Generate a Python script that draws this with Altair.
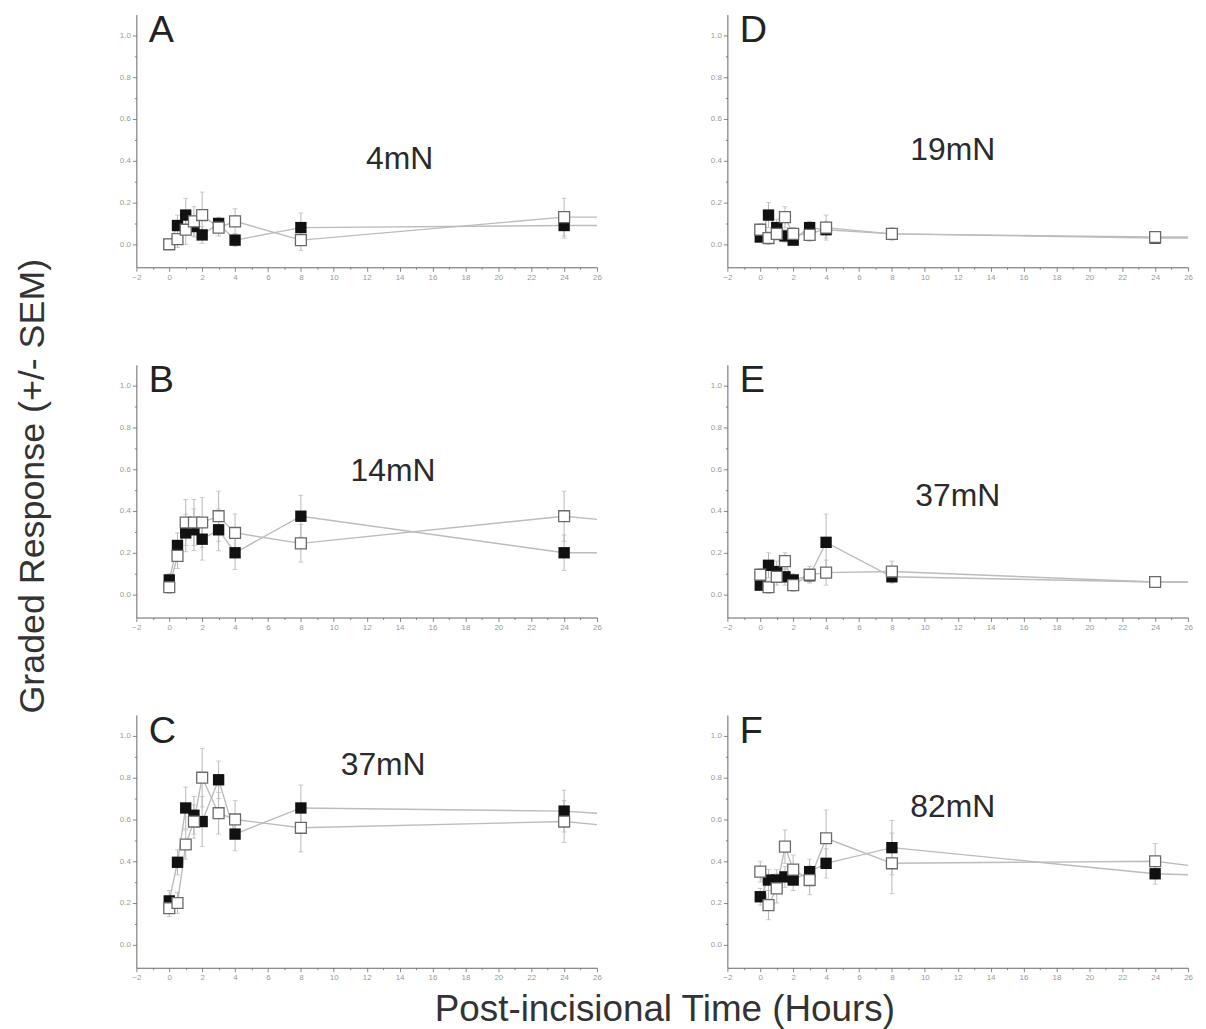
import altair as alt
import pandas as pd

# ---------------- data ----------------
times = [0, 0.5, 1, 1.5, 2, 3, 4, 8, 24]
tail_time = 26

panel_letters = ["A", "B", "C", "D", "E", "F"]
panel_labels = ["4mN", "14mN", "37mN", "19mN", "37mN", "82mN"]
label_x = [14.0, 13.6, 13.0, 11.7, 12.0, 11.7]
label_y = [0.41, 0.59, 0.86, 0.45, 0.47, 0.66]

A_filled = [0.0, 0.09, 0.14, 0.085, 0.045, 0.10, 0.02, 0.08, 0.09]
A_filled_sem = [0.02, 0.05, 0.08, 0.05, 0.04, 0.03, 0.03, 0.07, 0.06]
A_open = [0.0, 0.025, 0.07, 0.11, 0.14, 0.08, 0.11, 0.02, 0.13]
A_open_sem = [0.02, 0.04, 0.07, 0.07, 0.11, 0.04, 0.06, 0.05, 0.09]
A_tail = [0.09, 0.13]

B_filled = [0.07, 0.235, 0.295, 0.31, 0.265, 0.31, 0.20, 0.375, 0.20]
B_filled_sem = [0.03, 0.06, 0.09, 0.10, 0.10, 0.10, 0.08, 0.10, 0.085]
B_open = [0.035, 0.185, 0.345, 0.345, 0.345, 0.375, 0.295, 0.245, 0.375]
B_open_sem = [0.03, 0.06, 0.11, 0.11, 0.12, 0.12, 0.09, 0.09, 0.12]
B_tail = [0.20, 0.36]

C_filled = [0.21, 0.395, 0.655, 0.62, 0.59, 0.79, 0.53, 0.655, 0.64]
C_filled_sem = [0.05, 0.06, 0.10, 0.09, 0.12, 0.09, 0.08, 0.11, 0.10]
C_open = [0.175, 0.20, 0.48, 0.59, 0.80, 0.63, 0.60, 0.56, 0.59]
C_open_sem = [0.04, 0.05, 0.07, 0.08, 0.14, 0.10, 0.09, 0.115, 0.10]
C_tail = [0.63, 0.575]

D_filled = [0.035, 0.14, 0.08, 0.04, 0.02, 0.08, 0.07, 0.05, 0.03]
D_filled_sem = [0.02, 0.06, 0.04, 0.03, 0.02, 0.03, 0.04, 0.03, 0.02]
D_open = [0.07, 0.03, 0.05, 0.13, 0.05, 0.045, 0.08, 0.05, 0.035]
D_open_sem = [0.03, 0.03, 0.03, 0.05, 0.03, 0.03, 0.06, 0.02, 0.02]
D_tail = [0.03, 0.035]

E_filled = [0.045, 0.14, 0.11, 0.085, 0.07, 0.09, 0.25, 0.085, 0.06]
E_filled_sem = [0.02, 0.06, 0.05, 0.04, 0.03, 0.03, 0.135, 0.03, 0.02]
E_open = [0.095, 0.035, 0.085, 0.16, 0.045, 0.095, 0.105, 0.11, 0.06]
E_open_sem = [0.03, 0.03, 0.04, 0.04, 0.03, 0.04, 0.06, 0.05, 0.02]
E_tail = [0.06, 0.06]

F_filled = [0.23, 0.31, 0.31, 0.325, 0.31, 0.35, 0.39, 0.465, 0.34]
F_filled_sem = [0.04, 0.05, 0.05, 0.05, 0.05, 0.06, 0.07, 0.13, 0.05]
F_open = [0.35, 0.19, 0.27, 0.47, 0.36, 0.31, 0.51, 0.39, 0.40]
F_open_sem = [0.05, 0.07, 0.07, 0.08, 0.07, 0.07, 0.135, 0.145, 0.085]
F_tail = [0.335, 0.38]

series = {
    "A": (A_filled, A_filled_sem, A_open, A_open_sem, A_tail),
    "B": (B_filled, B_filled_sem, B_open, B_open_sem, B_tail),
    "C": (C_filled, C_filled_sem, C_open, C_open_sem, C_tail),
    "D": (D_filled, D_filled_sem, D_open, D_open_sem, D_tail),
    "E": (E_filled, E_filled_sem, E_open, E_open_sem, E_tail),
    "F": (F_filled, F_filled_sem, F_open, F_open_sem, F_tail),
}

x_ticks = list(range(-2, 27))
y_ticks = [round(i * 0.1, 1) for i in range(0, 11)]

FONT = "Liberation Sans"
PW, PH = 463, 254

xaxis = alt.Axis(
    values=x_ticks,
    labelExpr="datum.value % 2 == 0 ? datum.label : ''",
    format="d",
    grid=False,
    domainColor="#666",
    tickColor="#888",
    tickSize={"condition": {"test": "datum.value % 2 != 0", "value": 2}, "value": 4},
    labelColor="#999999",
    labelFontSize=8,
    labelFont=FONT,
    labelPadding=2,
    labelOverlap=False,
    labelFlush=False,
    title=None,
)
yaxis = alt.Axis(
    values=y_ticks,
    labelExpr="round(datum.value * 10) % 2 == 0 ? format(datum.value, '.1f') : ''",
    grid=False,
    domainColor="#666",
    tickColor="#888",
    tickSize={"condition": {"test": "round(datum.value * 10) % 2 != 0", "value": 2}, "value": 4},
    labelColor="#999999",
    labelFontSize=8,
    labelFont=FONT,
    labelPadding=2,
    labelOverlap=False,
    labelFlush=False,
    title=None,
)
xscale = alt.Scale(domain=[-2, 26], nice=False, zero=False)
yscale = alt.Scale(domain=[-0.11, 1.1], nice=False, zero=False)


def X(f):
    return alt.X(f"{f}:Q", scale=xscale, axis=xaxis, title=None)


def Y(f):
    return alt.Y(f"{f}:Q", scale=yscale, axis=yaxis, title=None)


def make_panel(i):
    letter = panel_letters[i]
    f, fs, o, os_, tail = series[letter]
    rows = []
    for t, v, s in zip(times, f, fs):
        rows.append({"t": t, "v": v, "lo": v - s, "hi": v + s, "s": "filled"})
    for t, v, s in zip(times, o, os_):
        rows.append({"t": t, "v": v, "lo": v - s, "hi": v + s, "s": "open"})
    pts = pd.DataFrame(rows)
    lines = pd.concat([
        pts[["t", "v", "s"]],
        pd.DataFrame({"t": [tail_time, tail_time], "v": tail, "s": ["filled", "open"]}),
    ])

    line = alt.Chart(lines).mark_line(color="#bcbcbc", strokeWidth=1.4).encode(
        x=X("t"), y=Y("v"), detail="s:N", order="t:Q")
    err = alt.Chart(pts).mark_rule(color="#b8b8b8", strokeWidth=1).encode(
        x=X("t"), y=Y("lo"), y2="hi:Q")
    cap_hi = alt.Chart(pts).mark_tick(color="#b8b8b8", size=5, thickness=1, orient="horizontal").encode(
        x=X("t"), y=Y("hi"))
    cap_lo = alt.Chart(pts).mark_tick(color="#b8b8b8", size=5, thickness=1, orient="horizontal").encode(
        x=X("t"), y=Y("lo"))
    pf = alt.Chart(pts).transform_filter("datum.s == 'filled'").mark_point(
        shape="square", filled=True, size=130, color="#111", opacity=1).encode(x=X("t"), y=Y("v"))
    po = alt.Chart(pts).transform_filter("datum.s == 'open'").mark_point(
        shape="square", filled=False, size=120, fill="white", fillOpacity=1,
        stroke="#6a6a6a", strokeWidth=1.3, opacity=1).encode(x=X("t"), y=Y("v"))
    let = alt.Chart(pd.DataFrame({"t": [-1.25], "v": [1.02], "txt": [letter]})).mark_text(
        fontSize=38, font=FONT, align="left", baseline="middle", color="#222").encode(
        x=X("t"), y=Y("v"), text="txt:N")
    lab = alt.Chart(pd.DataFrame({"t": [label_x[i]], "v": [label_y[i]], "txt": [panel_labels[i]]})).mark_text(
        fontSize=32, font=FONT, align="center", baseline="middle", color="#2a2a2a").encode(
        x=X("t"), y=Y("v"), text="txt:N")
    return alt.layer(line, err, cap_hi, cap_lo, pf, po, let, lab).properties(width=PW, height=PH)


panels = [make_panel(i) for i in range(6)]
SX, SY = 108, 81

grid = alt.vconcat(
    alt.hconcat(panels[0], panels[3], spacing=SX),
    alt.hconcat(panels[1], panels[4], spacing=SX),
    alt.hconcat(panels[2], panels[5], spacing=SX),
    spacing=SY,
).properties(title=alt.TitleParams(
    "Post-incisional Time (Hours)", orient="bottom", anchor="middle",
    fontSize=37, font=FONT, fontWeight="normal", color="#333", offset=11, dx=9))

ytitle = alt.Chart(pd.DataFrame({"txt": ["Graded Response (+/- SEM)"]})).mark_text(
    angle=270, fontSize=36, font=FONT, color="#333", align="center", baseline="middle").encode(
    text="txt:N", x=alt.value(20), y=alt.value(474)).properties(width=40, height=950)

chart = alt.hconcat(ytitle, grid, spacing=66).properties(
    padding={"left": 5, "top": 1, "right": 5, "bottom": 5}
).configure_view(stroke=None)

chart.save("out.html", embed_options={"renderer": "svg", "actions": False})
